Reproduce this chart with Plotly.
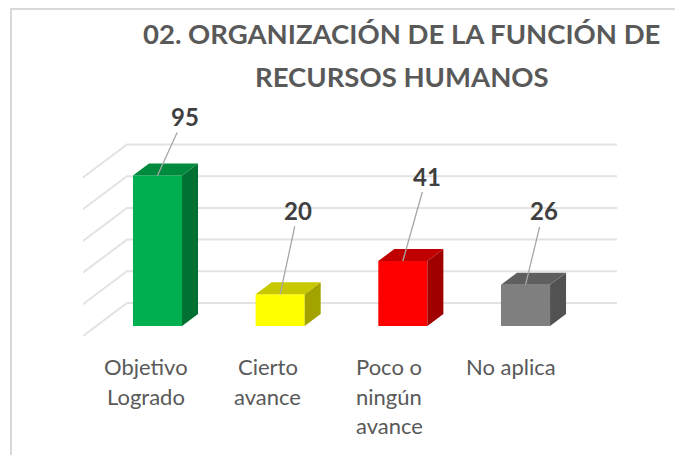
import plotly.graph_objects as go

categories = [["Objetivo", "Logrado"], ["Cierto", "avance"], ["Poco o", "ningún", "avance"], ["No aplica"]]
values = [95, 20, 41, 26]
gridline_values = [0, 20, 40, 60, 80, 100]
title_lines = ["02. ORGANIZACIÓN DE LA FUNCIÓN DE", "RECURSOS HUMANOS"]
front_colors = ["#00b050", "#ffff00", "#ff0000", "#7f7f7f"]
top_colors = ["#008a3e", "#c8c800", "#c00000", "#5f5f5f"]
side_colors = ["#007033", "#a3a300", "#a00000", "#525252"]

W, H = 675, 455
PL, PR, PT, PB = 83, 617, 100, 336
PX_X = 122.67      # pixels per category
PX_V = 1.585       # pixels per value unit
X0, V0 = 157.5, 326
BAR = 0.4
# oblique projection: one depth unit = 16 px right, 12 px up
DX, DV = 16 / PX_X, 12 / PX_V
WALL, FLOOR = 23 / 12, -10 / 12

def proj(x, v, d):
    return x + d * DX, v + d * DV

def px(x):
    return (x - PL) / (PR - PL)

def py(y):
    return (PB - y) / (PB - PT)

fig = go.Figure()
for i, v in enumerate(values):
    l, r = i - BAR / 2, i + BAR / 2
    side = [proj(r, 0, 0), proj(r, 0, 1), proj(r, v, 1), proj(r, v, 0)]
    top = [proj(l, v, 0), proj(l, v, 1), proj(r, v, 1), proj(r, v, 0)]
    for pts, c in ((side, side_colors[i]), (top, top_colors[i])):
        fig.add_trace(go.Scatter(x=[p[0] for p in pts], y=[p[1] for p in pts], mode="lines",
                                 fill="toself", fillcolor=c, line=dict(width=0, color=c),
                                 hoverinfo="skip", showlegend=False))
fig.add_trace(go.Bar(x=list(range(len(values))), y=values, width=BAR,
                     marker=dict(color=front_colors, line=dict(width=0)), showlegend=False))

xl = (PL - X0) / PX_X
xr = (PR - X0) / PX_X
for g in gridline_values:
    p1 = (xl, g + FLOOR * DV)
    p2 = (xl + (WALL - FLOOR) * DX, g + WALL * DV)
    p3 = (xr, g + WALL * DV)
    fig.add_shape(type="path", xref="x", yref="y", layer="below",
                  path=f"M {p1[0]} {p1[1]} L {p2[0]} {p2[1]} L {p3[0]} {p3[1]}",
                  line=dict(color="#e3e3e3", width=2))

label_offsets = [(27, -59), (18, -84), (24, -85), (18, -74)]
for i, v in enumerate(values):
    fig.add_annotation(x=i, y=v, xref="x", yref="y", text=f"<b>{v}</b>", showarrow=True,
                       arrowhead=0, arrowwidth=1.3, arrowcolor="#a6a6a6", standoff=0,
                       ax=label_offsets[i][0], ay=label_offsets[i][1], axref="pixel", ayref="pixel",
                       font=dict(family="Lato", size=24, color="#404040"))

label_line_y = [366, 396, 425]
for i, lines in enumerate(categories):
    cx = 145.8 + i * 121.8
    for j, t in enumerate(lines):
        fig.add_annotation(x=px(cx), y=py(label_line_y[j]), xref="paper", yref="paper", text=t,
                           showarrow=False, xanchor="center", yanchor="middle",
                           font=dict(family="Lato", size=22, color="#595959"))

for t, y in zip(title_lines, [33, 76]):
    fig.add_annotation(x=px(401.5), y=py(y), xref="paper", yref="paper", text=f"<b>{t}</b>",
                       showarrow=False, xanchor="center", yanchor="middle",
                       font=dict(family="Lato", size=27.5, color="#595959"))

fig.update_layout(width=W, height=H, autosize=False, plot_bgcolor="white", paper_bgcolor="white",
                  margin=dict(l=PL, r=W - PR, t=PT, b=H - PB), showlegend=False,
                  xaxis=dict(range=[xl, xr], showgrid=False, zeroline=False, showticklabels=False, ticks=""),
                  yaxis=dict(range=[(V0 - PB) / PX_V, (V0 - PT) / PX_V], showgrid=False, zeroline=False,
                             showticklabels=False, ticks=""))
fig.add_shape(type="path", xref="paper", yref="paper", layer="below",
              path=f"M {px(11)} {py(H)} L {px(11)} {py(9)} L {px(W)} {py(9)}",
              line=dict(color="#d9d9d9", width=2))
fig.write_html("out.html", config={"displayModeBar": False},
               post_script="document.body.style.margin='0';")
